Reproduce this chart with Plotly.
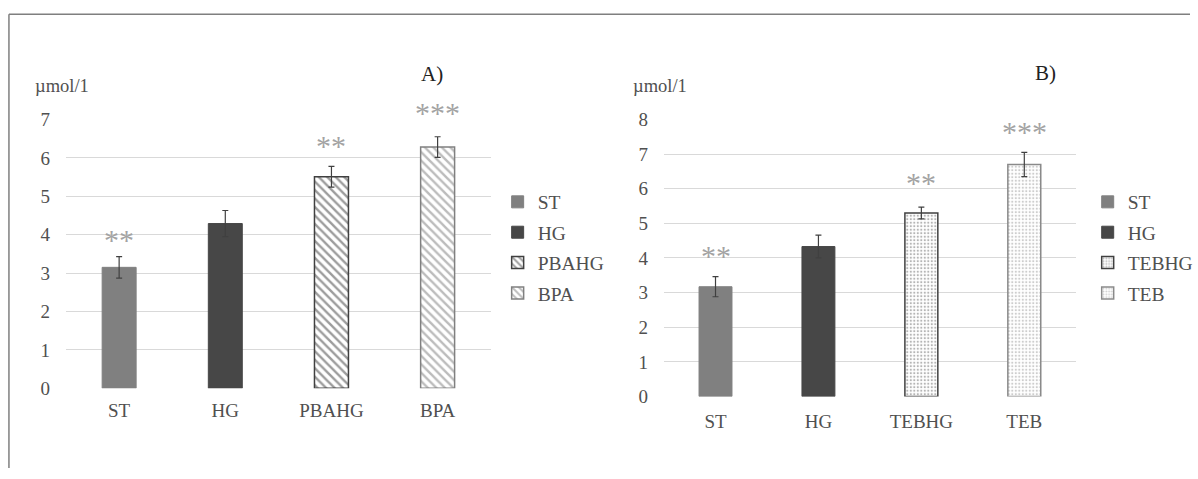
import plotly.graph_objects as go

# ---- data ----
cats_a = ["ST", "HG", "PBAHG", "BPA"]
vals_a = [3.15, 4.29, 5.51, 6.28]
err_a = [0.28, 0.34, 0.27, 0.27]
stars_a = ["**", "", "**", "***"]
star_y_a = [3.88, None, 6.33, 7.17]

cats_b = ["ST", "HG", "TEBHG", "TEB"]
vals_b = [3.17, 4.33, 5.30, 6.70]
err_b = [0.29, 0.33, 0.17, 0.35]
stars_b = ["**", "", "**", "***"]
star_y_b = [4.06, None, 6.19, 7.66]

yticks_a = [0, 1, 2, 3, 4, 5, 6, 7]
yticks_b = [0, 1, 2, 3, 4, 5, 6, 7, 8]

FONT = "Liberation Serif"
TXT = "#505050"
W, H = 1198, 479

# vertical calibration of the photographed page (screen px -> figure px)
def fy(screen_y):
    return (screen_y - 8.65) / 0.958

def py(screen_y):
    return 1 - fy(screen_y) / H

styles_a = [
    dict(color="#808080", line=dict(color="#808080", width=1)),
    dict(color="#474747", line=dict(color="#474747", width=1)),
    dict(color="white", line=dict(color="#404040", width=1.5),
         pattern=dict(shape="\\", fgcolor="#3a3a3a", bgcolor="white", size=6, solidity=0.4)),
    dict(color="white", line=dict(color="#808080", width=1.5),
         pattern=dict(shape="\\", fgcolor="#7a7a7a", bgcolor="white", size=6, solidity=0.4)),
]
styles_b = [
    dict(color="#808080", line=dict(color="#808080", width=1)),
    dict(color="#474747", line=dict(color="#474747", width=1)),
    dict(color="white", line=dict(color="#404040", width=1.5),
         pattern=dict(shape=".", fgcolor="#6a6a6a", bgcolor="white", size=3.5, solidity=0.32)),
    dict(color="white", line=dict(color="#8a8a8a", width=1.5),
         pattern=dict(shape=".", fgcolor="#9a9a9a", bgcolor="white", size=3.5, solidity=0.32)),
]

fig = go.Figure()

def add_panel(cats, vals, errs, styles, xa, ya, legend, grp):
    for i, (c, v, e, s) in enumerate(zip(cats, vals, errs, styles)):
        fig.add_trace(go.Bar(
            x=[c], y=[v], name=c, marker=s, width=0.32,
            error_y=dict(type="data", array=[e], color="#404040", thickness=1.2, width=3),
            xaxis=xa, yaxis=ya, legend=legend, legendgroup=f"{grp}{i}",
            showlegend=True,
        ))

add_panel(cats_a, vals_a, err_a, styles_a, "x", "y", "legend", "a")
add_panel(cats_b, vals_b, err_b, styles_b, "x2", "y2", "legend2", "b")

ymax_a = max(yticks_a)
ymax_b = max(yticks_b)

ann = []
for c, s, sy in zip(cats_a, stars_a, star_y_a):
    if s:
        ann.append(dict(x=c, y=sy / ymax_a, xref="x", yref="y domain", text=s, showarrow=False,
                        yanchor="middle",
                        font=dict(family=FONT, size=30, color="#a3a3a3")))
for c, s, sy in zip(cats_b, stars_b, star_y_b):
    if s:
        ann.append(dict(x=c, y=sy / ymax_b, xref="x2", yref="y2 domain", text=s, showarrow=False,
                        yanchor="middle",
                        font=dict(family=FONT, size=30, color="#a3a3a3")))

for text, xp, yp, col, sz in [("µmol/1", 33, 85, TXT, 18.5), ("A)", 422, 73, "#222222", 21),
                               ("µmol/1", 635, 85, TXT, 18.5), ("B)", 1040, 72, "#222222", 21)]:
    ann.append(dict(x=xp / W, y=py(yp), xref="paper", yref="paper", text=text, showarrow=False,
                    xanchor="left", yanchor="middle",
                    font=dict(family=FONT, size=sz, color=col)))

axis_common = dict(showgrid=False, ticks="", tickfont=dict(family=FONT, size=19, color=TXT),
                   showline=False, zeroline=False, fixedrange=True)
yaxis_common = dict(showgrid=True, gridcolor="#d9d9d9", gridwidth=1.3, ticks="",
                    tickfont=dict(family=FONT, size=19, color=TXT), zeroline=False,
                    showline=False, ticklabelstandoff=15, fixedrange=True)

legend_common = dict(xanchor="left", yanchor="top", tracegroupgap=2,
                     font=dict(family=FONT, size=19.5, color=TXT),
                     traceorder="grouped", bgcolor="rgba(0,0,0,0)")

fig.update_layout(
    width=W, height=H,
    margin=dict(l=0, r=0, t=0, b=0),
    paper_bgcolor="white", plot_bgcolor="white",
    barmode="overlay",
    font=dict(family=FONT, color=TXT),
    xaxis=dict(domain=[66.5 / W, 494 / W], anchor="y", categoryorder="array",
               categoryarray=cats_a, ticklabelstandoff=9, **axis_common),
    yaxis=dict(domain=[py(387.7), py(118.3)], anchor="x", range=[0, ymax_a],
               tickvals=yticks_a, **yaxis_common),
    xaxis2=dict(domain=[668.5 / W, 1083 / W], anchor="y2", categoryorder="array",
                categoryarray=cats_b, ticklabelstandoff=11, **axis_common),
    yaxis2=dict(domain=[py(395.9), py(118.3)], anchor="x2", range=[0, ymax_b],
                tickvals=yticks_b, **yaxis_common),
    legend=dict(x=501 / W, y=1 - 180.6 / H, **legend_common),
    legend2=dict(x=1095 / W, y=1 - 180.6 / H, **legend_common),
    annotations=ann,
    shapes=[
        dict(type="line", xref="paper", yref="paper", x0=9 / W, x1=1, y0=py(13), y1=py(13),
             line=dict(color="#7f7f7f", width=1.5)),
        dict(type="line", xref="paper", yref="paper", x0=9 / W, x1=9 / W, y0=0, y1=py(13),
             line=dict(color="#7f7f7f", width=1.5)),
    ],
    showlegend=True,
)

post = (
    "document.documentElement.style.margin='0';"
    "document.documentElement.style.overflow='hidden';"
    "document.body.style.margin='0';"
    "document.body.style.overflow='hidden';"
    "var gd=document.querySelector('.plotly-graph-div');"
    "gd.style.position='fixed';gd.style.top='0px';gd.style.left='0px';"
)

fig.write_html("out.html", config={"displayModeBar": False}, post_script=post)
